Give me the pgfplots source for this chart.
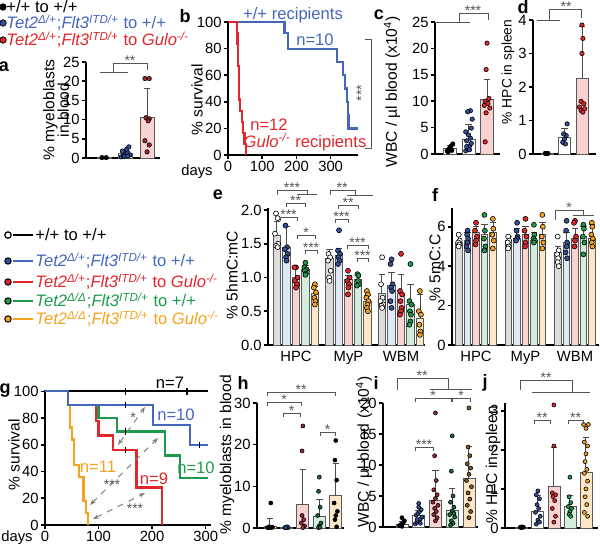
\documentclass[border=0pt]{standalone}
\usepackage{pgfplots}
\pgfplotsset{compat=1.18}
\usepackage{fontspec}
\setmainfont{Liberation Sans}
\usetikzlibrary{arrows.meta}

\definecolor{cblue}{HTML}{34509A}
\definecolor{tblue}{HTML}{4466BB}
\definecolor{cred}{HTML}{E3262B}
\definecolor{dred}{HTML}{9A2A30}
\definecolor{cgreen}{HTML}{1E9A4C}
\definecolor{dgreen}{HTML}{1C6B3C}
\definecolor{corange}{HTML}{F5A31E}
\definecolor{borange}{HTML}{8A5A20}
\definecolor{fgrey}{HTML}{DCDCDC}
\definecolor{fblue}{HTML}{E1E8F5}
\definecolor{fred}{HTML}{F8D3D1}
\definecolor{fgreen}{HTML}{D4EDDD}
\definecolor{forange}{HTML}{FCE8C8}
\definecolor{brk}{HTML}{555555}

\newcommand{\fs}{\fontsize{7.8}{7.3}\selectfont}
\newcommand{\fsd}{\fontsize{6.9}{7}\selectfont}
\newcommand{\fst}{\fontsize{7.4}{8.5}\selectfont}
\newcommand{\fsl}{\fontsize{8.3}{9.5}\selectfont}
\newcommand{\fss}{\fontsize{7}{8}\selectfont}
\newcommand{\fsb}{\fontsize{9}{10}\selectfont\bfseries}

\def\bw{6pt}
\def\ms{1pt}
\newcommand{\mybar}[4]{\addplot[ybar, bar width=\bw, bar shift=0pt, fill=#1, draw=gray!70!black, line width=0.4pt, forget plot,
  error bars/.cd, y dir=plus, y explicit, error bar style={gray!60!black, line width=0.5pt},
  error mark options={rotate=90, mark size=1.6pt, line width=0.5pt, gray!60!black}] coordinates {(#2,#3) +- (0,#4)};}
\newcommand{\mypts}[2]{\addplot[only marks, mark=*, mark size=\ms, mark options={fill=#1, draw=black, line width=0.3pt}, forget plot] coordinates {#2};}

\newcommand{\ta}{\textit{Tet2}\textsuperscript{\textit{Δ/+}};\textit{Flt3}\textsuperscript{\textit{ITD/+}}}
\newcommand{\tb}{\textit{Tet2}\textsuperscript{\textit{Δ/Δ}};\textit{Flt3}\textsuperscript{\textit{ITD/+}}}
\newcommand{\gulo}{\textit{Gulo}\textsuperscript{\textit{-/-}}}

\newcommand{\brk}[4]{\draw[brk, line width=0.5pt] (#1,#3+4) -- (#1,#3) -- (#2,#3) -- (#2,#3+4);
  \node[font=\fss, anchor=base, inner sep=0, text=brk] at ({(#1+#2)/2},#3+2.5) {#4};}
\newcommand{\ylab}[4][\fs]{\node[font=#1, rotate=90, inner sep=0, align=center] at (#2,#3) {#4};}

\pgfplotsset{
 panel/.style={scale only axis, anchor=south west, clip=false,
   axis x line*=bottom, axis y line*=left,
   axis line style={line width=1pt, -},
   tick style={black, line width=0.8pt},
   tick align=outside, major tick length=2pt,
   ticklabel style={font=\fst, inner sep=1pt}, label style={font=\fs},
   /pgf/number format/assume math mode=true,
   ymin=0, xtick=\empty},
}

\begin{document}
\begin{tikzpicture}
\useasboundingbox (0,0) rectangle (300pt,-273.5pt);

% ---------------- panel a
\def\bw{7pt}\def\ms{1.1pt}
\begin{axis}[panel, at={(43pt,-79pt)}, width=37pt, height=48pt, xmin=0.16, xmax=3.6, ymax=25,
  ytick={0,5,...,25}]
\mybar{white}{1}{0.1}{0}
\mybar{white}{2}{1.1}{1.0}
\mybar{fred}{3}{10.5}{7.7}
\mypts{black}{(0.9,0.1)(1.1,0.1)}
\mypts{cblue}{(1.8,0.3)(1.9,0.6)(2.0,1.0)(2.1,1.4)(2.2,0.8)(1.85,1.8)(2.05,2.3)(2.15,2.9)(1.95,0.4)(2.1,0.5)}
\mypts{dred}{(2.9,20.7)(3.1,20.7)(2.95,10.5)(3.1,10.2)(3.05,9.7)(2.9,4.5)(3.1,3.4)(3.0,1.6)}
\end{axis}

% ---------------- panel b
\begin{axis}[panel, at={(114pt,-77.5pt)}, width=65pt, height=66.5pt, xmin=0, xmax=380, ymax=100,
  xtick={0,100,200,300}, ytick={0,20,...,100}]
\addplot[tblue, line width=1.1pt] coordinates {(0,100)(165,100)(165,92)(175,92)(175,80)(318,80)(318,70)(336,70)(336,60)(342,60)(342,50)(347,50)(347,40)(350,40)(350,30)(352,30)(352,20)(380,20)};
\addplot[cred, line width=1.1pt] coordinates {(0,100)(27,100)(27,91.7)(28,91.7)(28,83.3)(29,83.3)(29,75)(30,75)(30,66.7)(31,66.7)(31,58.3)(32,58.3)(32,50)(33,50)(33,41.7)(35,41.7)(35,33.3)(40,33.3)(40,25)(44,25)(44,16.7)(48,16.7)(48,8.3)(52,8.3)(52,0)};
\end{axis}

% ---------------- panel c
\def\bw{6.5pt}\def\ms{1.1pt}
\begin{axis}[panel, at={(217.5pt,-77pt)}, width=32.5pt, height=66pt, xmin=0.19, xmax=3.7, ymax=25,
  ytick={0,5,...,25}]
\mybar{white}{1}{1.0}{0.6}
\mybar{white}{2}{2.8}{2.7}
\mybar{fred}{3}{10.4}{3.7}
\mypts{black}{(0.85,0.6)(0.95,1.0)(1.05,1.5)(1.15,1.9)(1.0,1.2)(0.9,0.4)(1.1,0.7)}
\mypts{cblue}{(1.85,0.6)(1.95,1.0)(2.05,1.5)(2.15,2.0)(1.9,2.5)(2.1,3.0)(2.0,3.6)(1.85,4.2)(2.15,4.9)(2.1,8.2)(1.95,8.0)(2.2,6.6)(1.9,1.4)(2.05,0.8)}
\mypts{cred}{(3.0,21)(2.95,16)(3.1,10.5)(2.9,10)(3.05,9.6)(2.85,9.2)(3.15,8.7)(2.95,7.8)(2.9,2.3)}
\end{axis}

% ---------------- panel d
\def\bw{6pt}\def\ms{1.1pt}
\begin{axis}[panel, at={(266.5pt,-77pt)}, width=31.5pt, height=67pt, xmin=0.2, xmax=3.8, ymax=4,
  ytick={0,1,...,4}]
\mybar{white}{1}{0.02}{0}
\mybar{white}{2}{0.5}{0.25}
\mybar{fred}{3}{2.27}{1.55}
\mypts{black}{(0.9,0.02)(1.05,0.02)(1.0,0.01)}
\mypts{cblue}{(1.9,0.35)(2.0,0.45)(2.1,0.55)(1.95,0.6)(2.15,0.9)(2.05,0.3)}
\mypts{cred}{(3.0,3.85)(3.05,3.45)(3.0,3.0)(2.95,1.57)(3.1,1.5)(2.85,1.4)(3.15,1.35)(2.95,1.3)(3.05,1.25)}
\end{axis}

% ---------------- panel e
\def\bw{3.7pt}\def\ms{1.25pt}
\begin{axis}[panel, at={(134pt,-172.5pt)}, width=78.5pt, height=68.5pt, xmin=0.467, xmax=3.457, ymax=2.03,
  ytick={0,0.5,...,2.0}, yticklabel style={/pgf/number format/fixed, /pgf/number format/fixed zerofill, /pgf/number format/precision=1},
  xtick={1,2,3}, xticklabels={HPC,MyP,WBM}, major x tick style={draw=none}]
\mybar{fgrey}{0.638}{1.63}{0.2}
\mybar{fblue}{0.819}{1.45}{0.3}
\mybar{fred}{1.0}{1.0}{0.15}
\mybar{fgreen}{1.181}{1.12}{0.06}
\mybar{forange}{1.362}{0.77}{0.1}
\mybar{fgrey}{1.638}{1.28}{0.14}
\mybar{fblue}{1.819}{1.33}{0.1}
\mybar{fred}{2.0}{0.97}{0.06}
\mybar{fgreen}{2.181}{0.97}{0.06}
\mybar{forange}{2.362}{0.65}{0.08}
\mybar{fgrey}{2.638}{0.77}{0.28}
\mybar{fblue}{2.819}{0.89}{0.19}
\mybar{fred}{3.0}{0.77}{0.28}
\mybar{fgreen}{3.181}{0.6}{0.3}
\mybar{forange}{3.362}{0.4}{0.35}
\mypts{white}{(0.62,1.95)(0.65,1.88)(0.60,1.65)(0.66,1.50)(0.62,1.47)(0.65,1.45)(1.62,1.35)(1.65,1.3)(1.61,1.25)(1.66,1.1)(1.63,1.0)(1.64,0.95)(2.64,1.3)(2.62,0.9)(2.65,0.7)(2.61,0.65)(2.66,0.6)(2.63,0.58)(2.64,0.55)}
\mypts{cblue}{(0.80,1.77)(0.83,1.45)(0.79,1.42)(0.84,1.35)(0.81,1.30)(0.82,1.25)(1.82,1.7)(1.80,1.4)(1.84,1.35)(1.81,1.3)(1.83,1.25)(1.80,1.2)(2.82,1.27)(2.80,1.2)(2.84,0.9)(2.81,0.85)(2.83,0.8)(2.80,0.65)(2.82,0.55)}
\mypts{cred}{(1.0,1.15)(0.97,1.15)(1.03,1.0)(0.98,0.95)(1.02,0.9)(1.0,0.85)(1.99,1.1)(2.02,1.0)(1.98,0.95)(2.01,0.9)(2.0,0.85)(1.99,0.75)(3.0,1.35)(2.98,0.8)(3.02,0.75)(2.99,0.65)(3.01,0.55)(3.0,0.5)(2.98,0.45)}
\mypts{cgreen}{(1.18,1.22)(1.16,1.15)(1.2,1.12)(1.17,1.1)(1.19,1.06)(1.18,1.04)(2.17,1.05)(2.19,1.03)(2.18,0.95)(2.2,0.9)(2.16,0.88)(3.18,1.2)(3.16,0.65)(3.2,0.6)(3.17,0.5)(3.19,0.45)(3.18,0.35)(3.16,0.3)}
\mypts{corange}{(1.36,0.9)(1.34,0.85)(1.38,0.78)(1.35,0.7)(1.37,0.65)(1.36,0.6)(2.35,0.8)(2.37,0.75)(2.34,0.7)(2.38,0.65)(2.36,0.6)(2.35,0.55)(2.37,0.5)(3.36,0.8)(3.34,0.5)(3.38,0.45)(3.35,0.3)(3.37,0.2)(3.36,0.15)}
\end{axis}

% ---------------- panel f
\def\bw{3.3pt}\def\ms{1.25pt}
\begin{axis}[panel, at={(226pt,-172.5pt)}, width=73.5pt, height=68.5pt, xmin=0.515, xmax=3.485, ymax=6.95,
  ytick={0,2,4,6}, xtick={1,2,3}, xticklabels={HPC,MyP,WBM}, major x tick style={draw=none}]
\mybar{fgrey}{0.656}{5.2}{0.4}
\mybar{fblue}{0.828}{5.3}{0.4}
\mybar{fred}{1.0}{5.7}{0.3}
\mybar{fgreen}{1.172}{5.6}{0.5}
\mybar{forange}{1.344}{5.7}{0.5}
\mybar{fgrey}{1.656}{5.3}{0.2}
\mybar{fblue}{1.828}{5.4}{0.5}
\mybar{fred}{2.0}{5.6}{0.4}
\mybar{fgreen}{2.172}{5.3}{0.4}
\mybar{forange}{2.344}{5.6}{0.6}
\mybar{fgrey}{2.656}{4.7}{0.3}
\mybar{fblue}{2.828}{5.2}{0.5}
\mybar{fred}{3.0}{5.4}{0.5}
\mybar{fgreen}{3.172}{5.5}{0.5}
\mybar{forange}{3.344}{5.4}{0.7}
\mypts{white}{(0.65,5.6)(0.67,5.3)(0.64,5.2)(0.66,5.1)(0.65,5.0)(1.65,5.5)(1.67,5.3)(1.64,5.2)(1.66,5.0)(1.65,4.9)(2.65,5.5)(2.67,4.8)(2.64,4.6)(2.66,4.4)(2.65,4.2)(2.67,4.0)}
\mypts{cblue}{(0.83,5.8)(0.82,5.6)(0.84,5.4)(0.83,5.2)(0.81,5.0)(0.84,4.8)(1.83,6.2)(1.82,5.8)(1.84,5.5)(1.83,5.4)(1.81,5.3)(2.83,6.3)(2.82,5.8)(2.84,5.2)(2.83,5.0)(2.81,4.7)(2.84,4.4)}
\mypts{cred}{(1.0,6.2)(0.98,5.8)(1.02,5.5)(1.0,5.3)(0.99,5.1)(2.0,6.4)(1.98,5.8)(2.02,5.5)(2.0,5.2)(1.99,5.0)(3.0,6.3)(2.98,6.2)(3.02,5.5)(3.0,5.3)(2.99,5.0)}
\mypts{cgreen}{(1.17,6.6)(1.18,5.8)(1.16,5.4)(1.19,5.0)(1.17,4.8)(2.17,6.1)(2.18,5.6)(2.16,5.4)(2.19,5.3)(2.17,5.2)(3.17,6.1)(3.18,5.9)(3.16,5.5)(3.19,5.2)(3.17,4.6)}
\mypts{corange}{(1.34,6.4)(1.35,5.9)(1.33,5.6)(1.36,5.3)(1.34,4.9)(2.34,6.6)(2.35,6.0)(2.33,5.5)(2.36,5.2)(2.34,4.9)(3.34,6.2)(3.35,6.0)(3.33,5.6)(3.36,5.4)(3.34,5.2)(3.35,5.0)}
\end{axis}

% ---------------- panel g
\begin{axis}[panel, at={(22.5pt,-262.5pt)}, width=83pt, height=67.5pt, xmin=0, xmax=310, ymax=101,
  xtick={0,100,200,300}, ytick={0,20,...,100}]
\addplot[black, line width=1.1pt] coordinates {(0,100)(305,100)};
\addplot[corange, line width=1.1pt] coordinates {(0,100)(43,100)(43,90)(46,90)(46,73)(50,73)(50,64)(54,64)(54,45)(64,45)(64,36)(72,36)(72,18)(76,18)(76,9)(80,9)(80,0)};
\addplot[cred, line width=1.1pt] coordinates {(0,100)(43,100)(43,90)(95,90)(95,78)(100,78)(100,67)(127,67)(127,56)(171,56)(171,28)(218,28)(218,0)};
\addplot[cgreen, line width=1.1pt] coordinates {(0,100)(43,100)(43,90)(100,90)(100,80)(135,80)(135,70)(224,70)(224,52)(252,52)(252,35)(305,35)};
\addplot[tblue, line width=1.1pt] coordinates {(0,100)(43,100)(43,90)(202,90)(202,75)(271,75)(271,60)(305,60)};
\addplot[only marks, mark=|, mark size=1.6pt, mark options={black, line width=0.7pt}] coordinates {(150,100)(265,100)(150,90)(150,70)(150,56)(288,60)};
\end{axis}

% ---------------- panel h
\def\bw{6pt}\def\ms{1pt}
\begin{axis}[panel, at={(128.5pt,-264pt)}, width=43.5pt, height=62.5pt, xmin=0.21, xmax=5.5, ymax=30,
  ytick={0,10,20,30}]
\mybar{white}{1}{0.5}{1.9}
\mybar{white}{2}{0.2}{0.1}
\mybar{fred}{3}{5.6}{8.5}
\mybar{fgreen}{4}{2.7}{4.2}
\mybar{forange}{5}{7.9}{7.6}
\mypts{black}{(0.9,0.1)(1.0,0.2)(1.1,0.1)(0.95,0.3)(1.05,6.0)(1.15,0.2)(0.85,0.1)}
\mypts{cblue}{(1.9,0.1)(2.0,0.2)(2.1,0.1)(2.05,0.3)(1.95,0.1)}
\mypts{dred}{(3.0,24.5)(2.95,18.5)(3.05,2.0)(2.9,1.2)(3.1,0.5)(3.0,0.1)(2.95,3.0)}
\mypts{dgreen}{(4.0,12.2)(3.95,8.8)(4.05,5.0)(3.9,3.0)(4.1,1.2)(4.0,0.5)(3.95,0.1)(4.05,0.2)}
\mypts{black}{(5.0,21)(4.95,16.3)(5.05,11.5)(4.9,6)(5.1,4)(5.0,3)(4.95,2)(5.05,0.3)}
\end{axis}

% ---------------- panel i
\begin{axis}[panel, at={(191.5pt,-263.5pt)}, width=47.5pt, height=62pt, xmin=-0.13, xmax=5.54, ymax=20,
  ytick={0,5,...,20}]
\mybar{white}{1}{0.4}{0.5}
\mybar{white}{2}{1.8}{0.8}
\mybar{fred}{3}{4.3}{4.8}
\mybar{fgreen}{4}{2.7}{3.5}
\mybar{forange}{5}{7.8}{5.2}
\mypts{black}{(0.85,0.2)(0.95,0.4)(1.05,0.6)(1.15,1.0)(1.0,1.5)(0.9,0.3)(1.1,0.8)(1.0,0.1)}
\mypts{cblue}{(1.8,0.5)(1.9,0.8)(2.0,1.0)(2.1,1.3)(2.2,1.6)(1.85,1.9)(1.95,2.2)(2.05,2.5)(2.15,2.8)(2.0,3.2)(1.9,1.2)(2.1,0.6)(2.0,3.8)}
\mypts{dred}{(3.0,18.4)(2.95,11.5)(3.05,7.5)(2.9,6)(3.1,5.2)(3.0,4.6)(2.85,4.0)(3.15,3.5)(2.95,3.0)(3.05,2.5)(2.9,2.0)(3.1,1.5)(3.0,1.0)}
\mypts{dgreen}{(4.0,14.7)(3.95,9.0)(4.05,5.0)(3.9,4.0)(4.1,3.2)(4.0,2.6)(3.85,2.0)(4.15,1.6)(3.95,1.0)(4.05,0.6)(3.9,0.3)(4.1,2.2)}
\mypts{borange}{(5.0,19.2)(4.95,12.9)(5.05,11.5)(4.9,10.2)(5.1,9.5)(5.0,8.5)(4.85,7.5)(5.15,6.5)(4.95,5.5)(5.05,4.5)(4.9,3.5)(5.1,2.5)(5.0,1.5)}
\end{axis}

% ---------------- panel j
\begin{axis}[panel, at={(252.5pt,-264pt)}, width=46.5pt, height=62.5pt, xmin=-0.05, xmax=5.75, ymax=3.2,
  ytick={0,1,2,3}]
\mybar{white}{1}{0.02}{0}
\mybar{white}{2}{0.42}{0.4}
\mybar{fred}{3}{1.07}{1.0}
\mybar{fgreen}{4}{0.55}{0.28}
\mybar{forange}{5}{1.42}{0.9}
\mypts{black}{(0.9,0.02)(1.0,0.03)(1.1,0.02)(0.95,0.01)(1.05,0.02)}
\mypts{cblue}{(2.0,0.95)(1.9,0.85)(2.1,0.75)(1.95,0.6)(2.05,0.5)(1.85,0.4)(2.15,0.3)(2.0,0.2)(1.9,0.1)(2.1,0.15)}
\mypts{cred}{(3.0,3.15)(3.0,2.1)(2.9,0.9)(3.1,0.85)(2.95,0.8)(3.05,0.7)(2.9,0.5)(3.1,0.3)(3.0,0.15)}
\mypts{cgreen}{(4.0,1.3)(3.95,0.8)(4.05,0.65)(3.9,0.55)(4.1,0.5)(4.0,0.42)(3.95,0.35)(4.05,0.3)}
\mypts{corange}{(4.85,2.65)(5.15,2.65)(5.0,2.55)(4.9,2.2)(5.1,2.1)(5.0,1.9)(4.95,1.7)(5.05,1.5)(4.9,1.4)(5.1,1.2)(5.0,1.0)(4.95,0.8)(5.05,0.6)(4.9,0.4)(5.1,0.3)}
\end{axis}

% ================= annotations (pixel units)
\begin{scope}[x=0.5pt,y=-0.5pt]
% axis titles
\ylab{56}{110}{\% myeloblasts\\in blood}
\ylab{197}{100}{\% survival}
\ylab{392}{92}{WBC / µl blood (x10\textsuperscript{4})}
\ylab[\fsd]{508}{72}{\% HPC in spleen}
\ylab{232}{275}{\% 5hmC:mC}
\ylab{435}{268}{\% 5mC:C}
\ylab{14}{455}{\% survival}
\ylab{227}{455}{\% myeloblasts in blood}
\ylab{364}{452}{WBC / µl blood (x10\textsuperscript{4})}
\ylab{493}{465}{\% HPC in spleen}
% top legend
\filldraw[fill=black, draw=black, line width=0.4pt] (3,7) circle (3.2);
\filldraw[fill=cblue, draw=black, line width=0.4pt] (3,23) circle (3.2);
\filldraw[fill=cred, draw=black, line width=0.4pt] (3,40) circle (3.2);
\node[anchor=west, font=\fsl, inner sep=0] at (6,7) {+/+ to +/+};
\node[anchor=west, font=\fsl, inner sep=0, text=tblue] at (6,23) {\ta{} to +/+};
\node[anchor=west, font=\fsl, inner sep=0, text=cred] at (6,40) {\ta{} to \gulo};
% middle legend
\foreach \yy/\ll in {235/black, 261/tblue, 282/cred, 301/cgreen, 319/corange}{
  \draw[\ll, line width=1pt] (13,\yy) -- (33,\yy);
}
\filldraw[fill=white, draw=black, line width=0.6pt] (8,235) circle (3.2);
\filldraw[fill=cblue, draw=black, line width=0.5pt] (8,261) circle (3.2);
\filldraw[fill=cred, draw=black, line width=0.5pt] (8,282) circle (3.2);
\filldraw[fill=cgreen, draw=black, line width=0.5pt] (8,301) circle (3.2);
\filldraw[fill=corange, draw=black, line width=0.5pt] (8,319) circle (3.2);
\node[anchor=west, font=\fsl, inner sep=0] at (35,235) {+/+ to +/+};
\node[anchor=west, font=\fsl, inner sep=0, text=tblue] at (35,261) {\ta{} to +/+};
\node[anchor=west, font=\fsl, inner sep=0, text=cred] at (35,282) {\ta{} to \gulo};
\node[anchor=west, font=\fsl, inner sep=0, text=cgreen] at (35,301) {\tb{} to +/+};
\node[anchor=west, font=\fsl, inner sep=0, text=corange] at (35,319) {\tb{} to \gulo};
% panel letters
\foreach \lx/\ly/\lt in {4/67/a, 185/16/b, 379/15/c, 523/7/d, 218/195/e, 435/195/f, 5/391/g, 243/383/h, 376/383/i, 485/383/j}{
  \node[font=\fsb, inner sep=0] at (\lx,\ly) {\lt};
}
% panel a
\draw[brk, line width=0.5pt] (100,72) -- (128,72) (113,72) -- (113,63) -- (147,63) -- (147,70);
\node[font=\fss, anchor=base, inner sep=0, text=brk] at (130,65.5) {**};
% panel b
\node[font=\fsl, text=tblue, inner sep=0] at (293,15) {+/+ recipients};
\node[font=\fsl, text=tblue, inner sep=0] at (315,40) {n=10};
\node[font=\fsl, text=cred, inner sep=0] at (269,125) {n=12};
\node[font=\fsl, text=cred, inner sep=0] at (305,142) {\gulo{} recipients};
\draw[brk, line width=0.5pt] (365,39) -- (371,39) -- (371,148) -- (365,148);
\node[font=\fss, rotate=90, anchor=base, inner sep=0, text=brk] at (366,93) {***};
\node[font=\fst, inner sep=0] at (197,172) {days};
% panel c
\draw[brk, line width=0.5pt] (435,22) -- (470,22) (459,22) -- (459,13) -- (488,13) -- (488,20);
\node[font=\fss, anchor=base, inner sep=0, text=brk] at (473,15.5) {***};
% panel d
\draw[brk, line width=0.5pt] (537,20) -- (560,20) (549,20) -- (549,9) -- (581,9) -- (581,18);
\node[font=\fss, anchor=base, inner sep=0, text=brk] at (566,11.5) {**};
% panel e
\draw[brk, line width=0.5pt] (277,195) -- (277,190) -- (307,190) -- (307,194) (297,194) -- (317,194);
\node[font=\fss, anchor=base, inner sep=0, text=brk] at (292,192.5) {***};
\brk{286}{305}{203}{**}
\brk{280}{297}{217}{***}
\brk{297}{315}{235}{*}
\brk{305}{317}{250}{***}
\draw[brk, line width=0.5pt] (330,195) -- (330,190) -- (355,190) -- (355,195) (347,195) -- (373,195);
\node[font=\fss, anchor=base, inner sep=0, text=brk] at (342,192.5) {**};
\brk{338}{358}{205}{**}
\brk{335}{348}{219}{***}
\brk{347}{368}{245}{***}
\brk{357}{368}{258}{***}
% panel f
\draw[brk, line width=0.5pt] (555,220) -- (555,210) -- (583,210) -- (583,215) (573,215) -- (594,215);
\node[font=\fss, anchor=base, inner sep=0, text=brk] at (569,212.5) {*};
% panel g
\node[font=\fsl, inner sep=0] at (170,383) {n=7};
\node[font=\fsl, inner sep=0, text=tblue] at (176,415) {n=10};
\node[font=\fsl, inner sep=0, text=cgreen] at (196,468) {n=10};
\node[font=\fsl, inner sep=0, text=corange] at (98,467) {n=11};
\node[font=\fsl, inner sep=0, text=cred] at (154,479) {n=9};
\draw[gray, dashed, line width=0.5pt, {Stealth[length=3pt]}-{Stealth[length=3pt]}] (118,445) -- (145,407);
\draw[gray, dashed, line width=0.5pt, {Stealth[length=3pt]}-{Stealth[length=3pt]}] (90,505) -- (158,438);
\draw[gray, dashed, line width=0.5pt, {Stealth[length=3pt]}-{Stealth[length=3pt]}] (93,519) -- (145,493);
\node[font=\fss, inner sep=0, text=brk] at (133,418) {*};
\node[font=\fss, inner sep=0, text=brk] at (112,485) {***};
\node[font=\fss, inner sep=0, text=brk] at (135,509) {***};
\node[font=\fst, inner sep=0] at (17,538) {days};
% panel h
\brk{267}{335}{392}{**}
\brk{267}{301}{402}{*}
\brk{283}{300}{413}{*}
\brk{320}{335}{432}{*}
% panel i
\draw[brk, line width=0.5pt] (397,390) -- (397,378) -- (448,378) -- (448,389) (430,389) -- (472,389);
\node[font=\fss, anchor=base, inner sep=0, text=brk] at (422,380.5) {**};
\brk{415}{451}{398}{*}
\brk{452}{470}{398}{*}
\brk{415}{433}{447}{***}
% panel j
\draw[brk, line width=0.5pt] (520,390) -- (520,380) -- (572,380) -- (572,392) (532,392) -- (590,392);
\node[font=\fss, anchor=base, inner sep=0, text=brk] at (546,382.5) {**};
\brk{534}{550}{420}{**}
\brk{568}{583}{420}{**}
\end{scope}
\end{tikzpicture}
\end{document}
